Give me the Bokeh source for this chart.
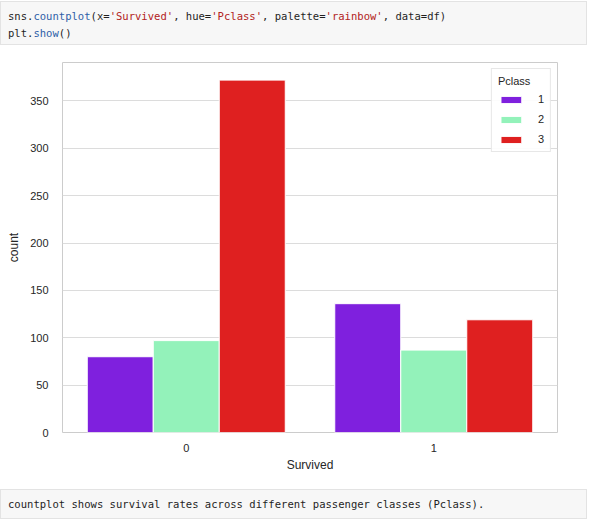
from bokeh.plotting import figure
from bokeh.models import Div, FixedTicker, Range1d, Legend
from bokeh.layouts import column
from bokeh.embed import file_html
from bokeh.resources import INLINE

# Data
survived = ["0", "1"]
pclass = ["1", "2", "3"]
counts_class1 = [80, 136]
counts_class2 = [97, 87]
counts_class3 = [372, 119]
colors = ["#7f20de", "#93f2ba", "#df2020"]

series = [counts_class1, counts_class2, counts_class3]

code_html = (
    "<div style=\"width:587px;height:44px;background:#f7f7f7;border:1px solid #e3e3e3;"
    "font-family:'DejaVu Sans Mono',monospace;font-size:10.55px;line-height:17px;"
    "padding:6px 0 0 7px;box-sizing:border-box;color:#1f1f1f;white-space:pre;\">"
    "sns.<span style='color:#2f5fa8'>countplot</span>(x=<span style='color:#b22222'>'Survived'</span>, "
    "hue=<span style='color:#b22222'>'Pclass'</span>, palette=<span style='color:#b22222'>'rainbow'</span>, data=df)<br>"
    "plt.<span style='color:#2f5fa8'>show</span>()"
    "</div>"
)
top = Div(text=code_html, width=589, height=48, margin=(1, 0, 0, 0))

p = figure(width=589, height=431, output_backend="svg", toolbar_location=None,
           x_range=Range1d(-0.5, 1.5), y_range=Range1d(0, 390.6),
           min_border_left=62, min_border_right=32, min_border_top=13, min_border_bottom=48,
           background_fill_color="white", border_fill_color="white")

w = 0.8 / len(pclass)
legend_items = []
for j, (vals, col) in enumerate(zip(series, colors)):
    xs = [i + (j - 1) * w for i in range(len(survived))]
    r = p.vbar(x=xs, top=vals, width=w, fill_color=col, line_color="white", line_width=1)
    legend_items.append((pclass[j], [r]))

legend = Legend(items=legend_items, title="Pclass", location="top_right")
legend.title_text_font = "Liberation Sans"
legend.title_text_font_size = "11px"
legend.title_text_font_style = "normal"
legend.title_text_color = "#262626"
legend.title_standoff = 6
legend.label_text_font = "Liberation Sans"
legend.label_text_font_size = "11px"
legend.label_text_color = "#262626"
legend.glyph_width = 26
legend.glyph_height = 9
legend.label_width = 6
legend.label_standoff = 14
legend.spacing = 8
legend.padding = 6
legend.margin = 6
legend.border_line_color = "#d0d0d0"
legend.background_fill_alpha = 0.9
p.add_layout(legend)

p.xaxis.ticker = FixedTicker(ticks=[0, 1])
p.xaxis.major_label_overrides = {i: s for i, s in enumerate(survived)}
p.yaxis.ticker = FixedTicker(ticks=[0, 50, 100, 150, 200, 250, 300, 350])

for ax in (p.xaxis, p.yaxis):
    ax.axis_line_color = None
    ax.major_tick_line_color = None
    ax.minor_tick_line_color = None
    ax.major_label_text_font = "Liberation Sans"
    ax.major_label_text_font_size = "11px"
    ax.major_label_text_color = "#262626"
    ax.axis_label_text_font = "Liberation Sans"
    ax.axis_label_text_font_size = "12px"
    ax.axis_label_text_font_style = "normal"
    ax.axis_label_text_color = "#262626"

p.xaxis.axis_label = "Survived"
p.yaxis.axis_label = "count"
p.xaxis.major_label_standoff = 5
p.yaxis.major_label_standoff = 8
p.xaxis.axis_label_standoff = 3
p.yaxis.axis_label_standoff = 6

p.xgrid.grid_line_color = None
p.ygrid.grid_line_color = "#dcdcdc"
p.ygrid.grid_line_width = 1
p.outline_line_color = "#cccccc"
p.outline_line_width = 1

bottom_html = (
    "<div style=\"width:587px;height:30px;background:#f7f7f7;border:1px solid #e3e3e3;"
    "font-family:'DejaVu Sans Mono',monospace;font-size:10.55px;line-height:28px;"
    "padding:0 0 0 7px;box-sizing:border-box;color:#1f1f1f;white-space:pre;\">"
    "countplot shows survival rates across different passenger classes (Pclass)."
    "</div>"
)
bottom = Div(text=bottom_html, width=589, height=30, margin=(9, 0, 0, 0))

layout = column(top, p, bottom, spacing=0, margin=0)
open("out.html", "w").write(file_html(layout, INLINE))
